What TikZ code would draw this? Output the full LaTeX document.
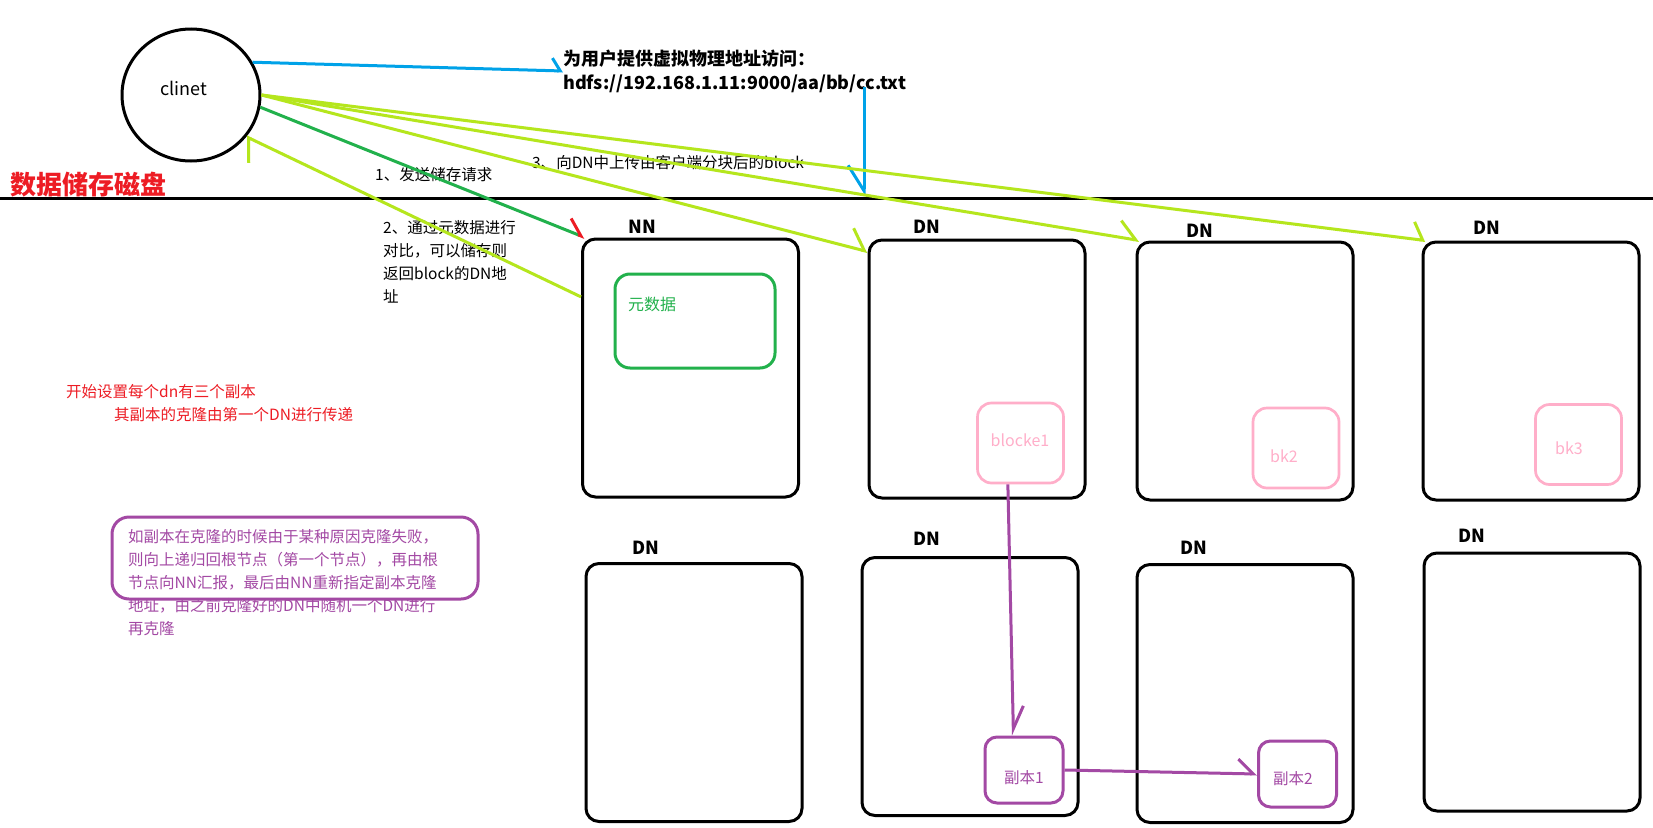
\documentclass[tikz,border=0pt]{standalone}
\usepackage{fontspec}
\setmainfont{Noto Sans CJK SC}
\usetikzlibrary{arrows.meta,shapes.geometric}
\definecolor{paintlime}{HTML}{B5E61D}
\definecolor{paintgreen}{HTML}{22B14C}
\definecolor{paintblue}{HTML}{00A2E8}
\definecolor{paintred}{HTML}{ED1C24}
\definecolor{paintpurple}{HTML}{A349A4}
\definecolor{paintpink}{HTML}{FFAEC9}
\tikzset{
  server/.style={draw,line width=3pt,rounded corners=13pt,minimum width=216pt,minimum height=258pt,inner sep=0pt},
  blockbox/.style={draw=paintpink,line width=2.7pt,rounded corners=14pt,minimum width=86pt,minimum height=80pt,inner sep=0pt},
  replica/.style={draw=paintpurple,line width=3pt,rounded corners=12pt,minimum width=78pt,minimum height=66pt,inner sep=0pt},
  tag/.style={font=\fontsize{18}{20}\selectfont,inner sep=0pt},
  note/.style={font=\fontsize{15.5}{23}\selectfont,inner sep=0pt,align=left},
  wire/.style={line width=3pt},
  barbtip/.style={-{Straight Barb[harpoon,angle=#1]}},
}

\begin{document}
\begin{tikzpicture}[x=1pt,y=-1pt]
  \fill[white] (0,0) rectangle (1653,827);
  \useasboundingbox (0,0) rectangle (1653,827);

  % disk line
  \draw[line width=3pt] (0,198) -- (1653,198);
  \coordinate (diskc) at (864,196);
  \node[anchor=west,text=paintred,font=\fontsize{26}{28}\selectfont\bfseries,inner sep=0pt] (title) at (10,185) {数据储存磁盘};

  % client
  \node[draw,ellipse,line width=3pt,minimum width=138pt,minimum height=132pt] (cli) at (191,95) {};
  \node[tag] (clitext) at (184,88) {clinet};
  \node[anchor=west,font=\fontsize{18}{24}\selectfont\bfseries,inner sep=0pt,align=left] (url) at (563,71) {为用户提供虚拟物理地址访问：\\hdfs://192.168.1.11:9000/aa/bb/cc.txt};
  \coordinate (urlc) at (864,87);

  % NN and DN boxes
  \node[server] (nn) at (690.5,368) {};
  \node[server] (dna) at (977,369) {};
  \node[server] (dnb) at (1245,371) {};
  \node[server] (dnc) at (1531,371) {};
  \node[server] (dnd) at (694,692.5) {};
  \node[server] (dne) at (970,686.5) {};
  \node[server] (dnf) at (1245,693.5) {};
  \node[server] (dng) at (1532,682) {};
  \node[tag,font=\fontsize{18}{20}\selectfont\bfseries] (nnlab) at (642,227) {NN};
  \node[tag,font=\fontsize{18}{20}\selectfont\bfseries] (dnalab) at (927,227) {DN};
  \node[tag,font=\fontsize{18}{20}\selectfont\bfseries] (dnblab) at (1200,231) {DN};
  \node[tag,font=\fontsize{18}{20}\selectfont\bfseries] (dnclab) at (1487,228) {DN};
  \node[tag,font=\fontsize{18}{20}\selectfont\bfseries] (dndlab) at (646,548) {DN};
  \node[tag,font=\fontsize{18}{20}\selectfont\bfseries] (dnelab) at (927,539) {DN};
  \node[tag,font=\fontsize{18}{20}\selectfont\bfseries] (dnflab) at (1194,548) {DN};
  \node[tag,font=\fontsize{18}{20}\selectfont\bfseries] (dnglab) at (1472,536) {DN};

  % metadata and blocks
  \node[draw=paintgreen,line width=3pt,rounded corners=15pt,minimum width=160pt,minimum height=94pt] (meta) at (695,321) {};
  \node[note,text=paintgreen,font=\fontsize{16}{20}\selectfont] (metatext) at (652,304) {元数据};
  \node[blockbox] (blk1) at (1020.5,443) {};
  \node[blockbox] (blk2) at (1296,448) {};
  \node[blockbox] (blk3) at (1578.5,444.5) {};
  \node[note,text=paintpink,font=\fontsize{16}{20}\selectfont] (blk1text) at (1020,440) {blocke1};
  \node[note,text=paintpink,font=\fontsize{16}{20}\selectfont] (blk2text) at (1284,456) {bk2};
  \node[note,text=paintpink,font=\fontsize{16}{20}\selectfont] (blk3text) at (1569,448) {bk3};
  \node[replica] (rep1) at (1024,770) {};
  \node[replica] (rep2) at (1297.5,774) {};
  \node[note,text=paintpurple] (rep1text) at (1024,778) {副本1};
  \node[note,text=paintpurple] (rep2text) at (1293,779) {副本2};

  % notes
  \node[note,anchor=west] (step1) at (375,175) {1、发送储存请求};
  \node[note,anchor=west] (step2) at (383,261.5) {2、通过元数据进行\\对比，可以储存则\\返回block的DN地\\址};
  \node[note,anchor=west] (step3) at (532,163) {3、向DN中上传由客户端分块后的block};
  \node[note,anchor=west,text=paintred] (cfg1) at (66,392) {开始设置每个dn有三个副本};
  \node[note,anchor=west,text=paintred] (cfg2) at (114,415) {其副本的克隆由第一个DN进行传递};
  \node[draw=paintpurple,line width=3pt,rounded corners=17pt,minimum width=366pt,minimum height=82pt] (failbox) at (295,558) {};
  \node[note,anchor=west,text=paintpurple] (failtext) at (128,583) {如副本在克隆的时候由于某种原因克隆失败，\\则向上递归回根节点（第一个节点），再由根\\节点向NN汇报，最后由NN重新指定副本克隆\\地址，由之前克隆好的DN中随机一个DN进行\\再克隆};

  % connectors
  \draw[wire,paintblue,barbtip=114:15pt] (cli.28) -- (url.west);
  \draw[wire,paintblue,-{Straight Barb[harpoon,swap,angle=64:30pt]}] (urlc) -- (diskc);
  \draw[wire,paintlime,barbtip=100:25pt] (cli.0) -- (dna.133);
  \draw[wire,paintlime,barbtip=88:24pt] (cli.0) -- (dnb.129);
  \draw[wire,paintlime,barbtip=118:20pt] (cli.0) -- (dnc.129);
  \draw[wire,paintgreen,-{Straight Barb[harpoon,angle=78:20pt,color=paintred]}] (cli.-10) -- (nn.129);
  \draw[wire,paintlime,barbtip=128:25pt] (nn.147) -- (cli.-37);
  \draw[wire,paintpurple,barbtip=50:25pt] (blk1.-107) -- (rep1.107);
  \draw[wire,paintpurple,barbtip=87:21pt] (rep1.east) -- (rep2.west);
\end{tikzpicture}
\end{document}
